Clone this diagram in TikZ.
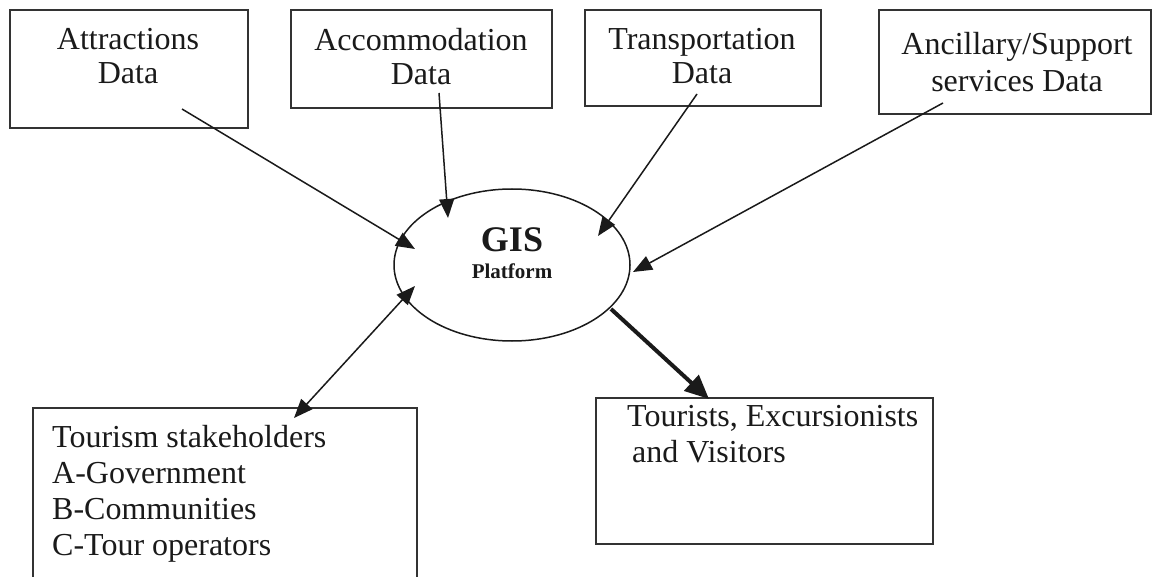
\documentclass[tikz,border=0pt]{standalone}
\usepackage{fontspec}
\setmainfont{Liberation Serif}
\usetikzlibrary{arrows.meta,shapes.geometric}
\definecolor{ink}{HTML}{1A1A1A}
\definecolor{frame}{HTML}{333333}
\begin{document}
\begin{tikzpicture}[x=1pt,y=-1pt,
  databox/.style={draw=frame,line width=2pt,rectangle,anchor=north west,inner sep=0pt},
  boxtext/.style={text=ink,inner sep=0pt,font=\fontsize{32}{34}\selectfont},
  feed/.style={draw=ink,line width=1.5pt,-{Triangle[length=19pt,width=15pt]}},
  twoway/.style={draw=ink,line width=1.5pt,{Triangle[length=19pt,width=15pt]}-{Triangle[length=19pt,width=15pt]}},
  output/.style={draw=ink,line width=4pt,-{Triangle[length=24pt,width=21pt]}}]
\useasboundingbox (0,0) rectangle (1153,577);
\fill[white] (0,0) rectangle (1153,577);

% data sources along the top
\node[databox,minimum width=238pt,minimum height=118pt] (attr) at (9,9) {};
\node[databox,minimum width=261pt,minimum height=98pt] (accom) at (290,9) {};
\node[databox,minimum width=236pt,minimum height=96pt] (trans) at (584,9) {};
\node[databox,minimum width=272pt,minimum height=104pt] (ancil) at (878,9) {};

\node[boxtext,align=center,anchor=north] (attrtext) at (128,28) {Attractions\\Data};
\node[boxtext,align=center,anchor=north] (accomtext) at (421,28) {Accommodation\\Data};
\node[boxtext,align=center,anchor=north] (transtext) at (702,28) {Transportation\\Data};
\node[boxtext,align=center,anchor=north,font=\fontsize{32}{37}\selectfont] (anciltext) at (1017,32) {Ancillary/Support\\services Data};

% central platform
\node[draw=ink,line width=1.5pt,ellipse,minimum width=236pt,minimum height=152pt,inner sep=0pt] (gis) at (512,265) {};
\node[text=ink,inner sep=0pt,anchor=base,font=\fontsize{36}{40}\selectfont\bfseries] (gisname) at (512,252) {GIS};
\node[text=ink,inner sep=0pt,anchor=base,font=\fontsize{21}{24}\selectfont\bfseries] (gissub) at (512,279) {Platform};

% users at the bottom
\node[databox,minimum width=384pt,minimum height=200pt] (stake) at (32,407) {};
\node[databox,minimum width=337pt,minimum height=146pt] (tour) at (595,397) {};

\node[boxtext,align=left,anchor=north west,font=\fontsize{32}{36}\selectfont] (staketext) at (52,425)
  {Tourism stakeholders\\A-Government\\B-Communities\\C-Tour operators};
\node[boxtext,align=left,anchor=north west,font=\fontsize{32}{36}\selectfont] (tourtext) at (627,405)
  {Tourists, Excursionists\\\hspace*{5pt}and Visitors};

% connector end points
\coordinate (attrOut) at (182,109);
\coordinate (accomOut) at (439,93);
\coordinate (transOut) at (697,94);
\coordinate (ancilOut) at (943,103);
\coordinate (gisA) at (415,249);
\coordinate (gisB) at (448,218);
\coordinate (gisC) at (598,236);
\coordinate (gisD) at (633,272);
\coordinate (gisE) at (415,286);
\coordinate (stakeIn) at (294,418);
\coordinate (gisF) at (611,309);
\coordinate (tourIn) at (709,399);

\draw[feed] (attrOut) -- (gisA);
\draw[feed] (accomOut) -- (gisB);
\draw[feed] (transOut) -- (gisC);
\draw[feed] (ancilOut) -- (gisD);
\draw[twoway] (stakeIn) -- (gisE);
\draw[output] (gisF) -- (tourIn);
\end{tikzpicture}
\end{document}
